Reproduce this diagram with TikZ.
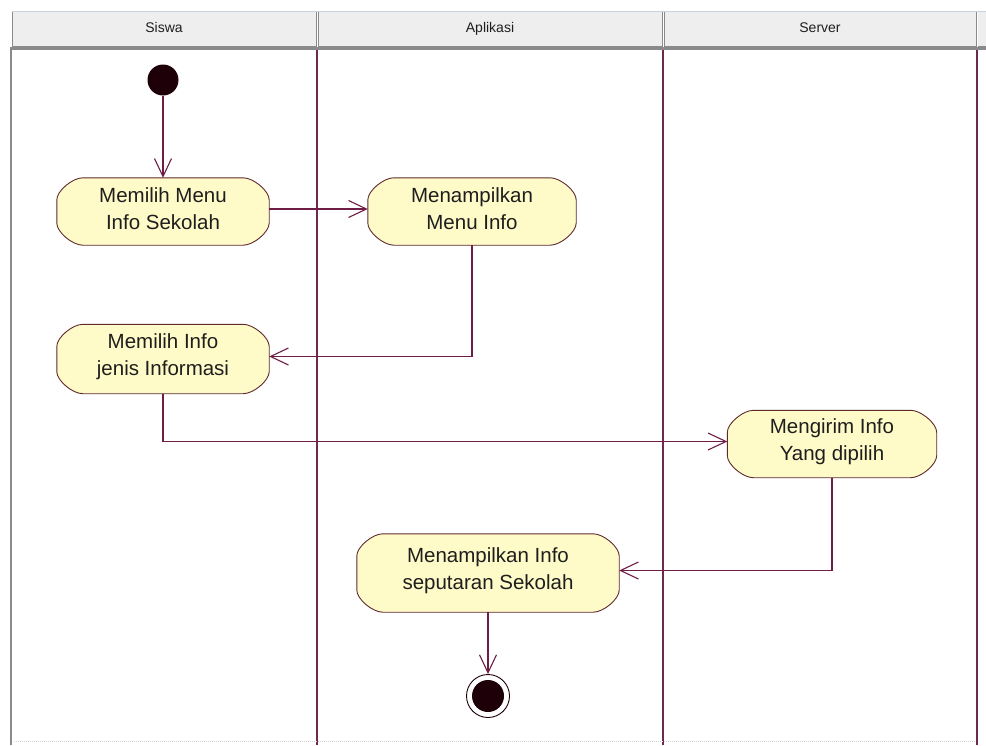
\documentclass[tikz,border=0pt]{standalone}
\usepackage{fontspec}
\setmainfont{Liberation Sans}
\usetikzlibrary{arrows.meta,backgrounds}

\definecolor{lanecol}{HTML}{6E2A4A}
\definecolor{flowcol}{HTML}{6E1E46}
\definecolor{actfill}{HTML}{FFFBC8}
\definecolor{actdraw}{HTML}{5E2A2E}
\definecolor{hdrfill}{HTML}{EEEEEE}
\definecolor{hdrline}{HTML}{8A8A8A}
\definecolor{hdrtop}{HTML}{C9D6DE}
\definecolor{dotcol}{HTML}{1E0008}
\definecolor{txtcol}{HTML}{1E1E1E}

\tikzset{
  lanehead/.style={draw=hdrline, fill=hdrfill, line width=0.8, inner sep=0,
    minimum height=35, text height=10, text depth=3,
    font=\fontsize{14}{16}\selectfont, text=txtcol},
  act/.style={rectangle, inner sep=0, align=center, text=txtcol,
    font=\fontsize{20.5}{27}\selectfont},
  actshape/.style={draw=actdraw, fill=actfill, line width=0.9},
  initnode/.style={circle, fill=dotcol, inner sep=0, minimum size=31},
  finalring/.style={circle, draw=dotcol, line width=0.9, inner sep=0, minimum size=43},
  finaldot/.style={circle, fill=dotcol, inner sep=0, minimum size=32},
  flowline/.style={draw=flowcol, line width=1.1,
    -{Straight Barb[length=18pt,width=17pt]}},
  laneline/.style={draw=lanecol, line width=1.3},
}

% activity outline: flattened rounded ends, set 2.5pt below the text box
\newcommand\actoutline[1]{%
  \draw[actshape]
    ([xshift=26pt,yshift=-2.5pt]#1.north west) -- ([xshift=-26pt,yshift=-2.5pt]#1.north east)
    .. controls ([xshift=-15.6pt,yshift=-2.5pt]#1.north east) and ([yshift=-15.7pt]#1.north east)
    .. ([yshift=-24.5pt]#1.north east) -- ([yshift=19.5pt]#1.south east)
    .. controls ([yshift=10.7pt]#1.south east) and ([xshift=-15.6pt,yshift=-2.5pt]#1.south east)
    .. ([xshift=-26pt,yshift=-2.5pt]#1.south east) -- ([xshift=26pt,yshift=-2.5pt]#1.south west)
    .. controls ([xshift=15.6pt,yshift=-2.5pt]#1.south west) and ([yshift=10.7pt]#1.south west)
    .. ([yshift=19.5pt]#1.south west) -- ([yshift=-24.5pt]#1.north west)
    .. controls ([yshift=-15.7pt]#1.north west) and ([xshift=15.6pt,yshift=-2.5pt]#1.north west)
    .. ([xshift=26pt,yshift=-2.5pt]#1.north west) -- cycle;}

\begin{document}
\begin{tikzpicture}[x=1pt,y=-1pt]
\useasboundingbox (0,0) rectangle (986,745);

% activities (text; outlines are drawn below on the background layer)
\node[initnode] (start) at (163,80) {};
\node[act, minimum width=212, minimum height=67] (menu) at (163,209) {Memilih Menu\\Info Sekolah};
\node[act, minimum width=208, minimum height=67] (tampilmenu) at (472,209) {Menampilkan\\Menu Info};
\node[act, minimum width=212, minimum height=69] (jenis) at (163,356.5) {Memilih Info\\jenis Informasi};
\node[act, minimum width=209, minimum height=67] (kirim) at (832,441.5) {Mengirim Info\\Yang dipilih};
\node[act, minimum width=262, minimum height=78] (tampilinfo) at (488,570.5) {Menampilkan Info\\seputaran Sekolah};
\node[finalring] (end) at (488,696) {};
\node[finaldot] (enddot) at (end.center) {};

\begin{pgfonlayer}{background}
\fill[white] (0,0) rectangle (986,745);

% swimlane header
\node[lanehead, minimum width=304] (hsiswa) at (164,28.5) {Siswa};
\node[lanehead, minimum width=344] (haplikasi) at (490,28.5) {Aplikasi};
\node[lanehead, minimum width=312] (hserver) at (820,28.5) {Server};
\fill[hdrfill] (978,11) rectangle (986,46);
\draw[hdrline, line width=0.8] (978,11) -- (986,11) (978,46) -- (986,46);
\draw[hdrtop, line width=1] (12,11) -- (986,11);
\draw[hdrline, line width=3] (10,48) -- (986,48);

% swimlane borders
\draw[hdrline, line width=2.5] (11,47) -- (11,745);
\draw[laneline] (317,50) -- (317,745);
\draw[laneline] (663,50) -- (663,745);
\draw[laneline] (977,50) -- (977,745);
\draw[gray!35, densely dotted, line width=1] (14,741) -- (976,741);

% activity outlines
\foreach \n in {menu,tampilmenu,jenis,kirim,tampilinfo} {\actoutline{\n}}
\end{pgfonlayer}

% control flows
\draw[flowline] (start) -- ([yshift=-2.5pt]menu.north);
\draw[flowline] (menu) -- (tampilmenu);
\draw[flowline] ([yshift=-2.5pt]tampilmenu.south) |- (jenis.east);
\draw[flowline] ([yshift=-2.5pt]jenis.south) |- (kirim.west);
\draw[flowline] ([yshift=-2.5pt]kirim.south) |- (tampilinfo.east);
\draw[flowline] ([yshift=-2.5pt]tampilinfo.south) -- (end);
\end{tikzpicture}
\end{document}
